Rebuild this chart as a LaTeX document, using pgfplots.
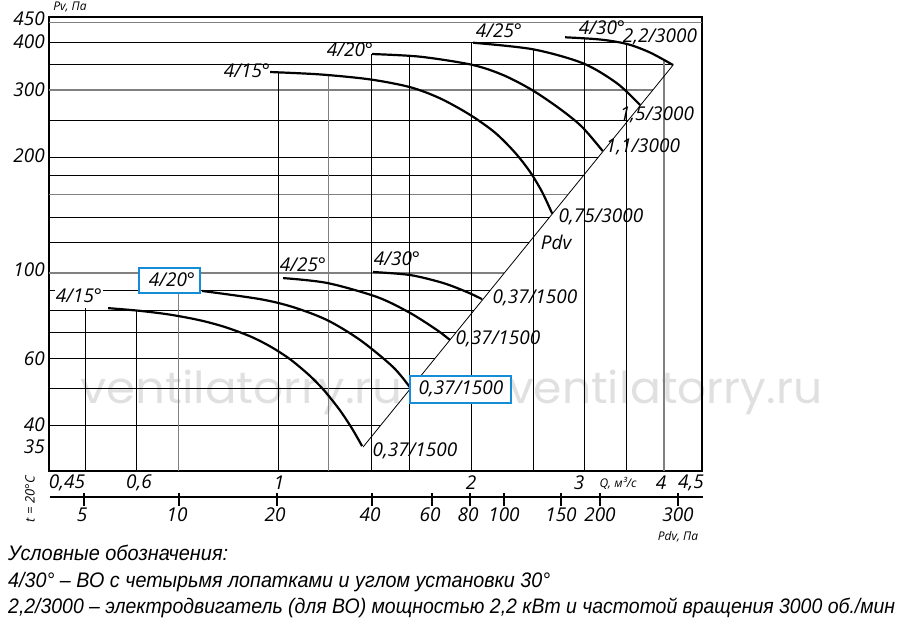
\documentclass[border=0pt]{standalone}
\usepackage{pgfplots}
\pgfplotsset{compat=1.18}
\usepackage{fontspec}
\usepackage{graphicx}
\setmainfont{Open Sans}
\newfontfamily\legfont{Liberation Sans}
\newfontfamily\wmfont{Poppins}
\definecolor{boxblue}{RGB}{20,140,215}
\pgfplotsset{gl/.style={black, line width=0.75pt}, gg/.style={black!50, line width=1.3pt}, crv/.style={black, line width=2.2pt, smooth, tension=0.5}}
\newcommand{\lf}{\itshape\fontsize{19}{19}\selectfont}
\newcommand{\smf}{\itshape\fontsize{12}{12}\selectfont}
\newcommand{\lgf}{\legfont\itshape\fontsize{21}{22}\selectfont}
\begin{document}
\begin{tikzpicture}
\begin{scope}[x=1pt,y=-1pt,shift={(-49.3pt,471pt)}]
\path[use as bounding box] (0,0) rectangle (900,624);
% watermark (behind everything)
\node[anchor=base west, inner sep=0, text=black!12, font=\wmfont\fontsize{44}{44}\selectfont] at (80,404) {\resizebox{322pt}{\height}{ventilatorry.ru}};
\node[anchor=base west, inner sep=0, text=black!12, font=\wmfont\fontsize{44}{44}\selectfont] at (508,404) {\resizebox{314pt}{\height}{ventilatorry.ru}};
\end{scope}
\begin{axis}[name=ax, at={(0,0)}, anchor=south west, xmode=log, ymode=log,
  xmin=0.4396, xmax=4.585, ymin=30.48, ymax=464,
  width=652.7pt, height=453.7pt, scale only axis, ticks=none,
  axis line style={line width=1.8pt}, clip=false]
% horizontal grid
\addplot[gg] coordinates {(0.4396,450) (4.585,450)};
\addplot[gl] coordinates {(0.4396,400) (3.40,400)};
\addplot[gl] coordinates {(0.4396,350) (4.13,350)};
\addplot[gg] coordinates {(0.4396,300) (3.842,300)};
\addplot[gl] coordinates {(0.4396,250) (3.517,250)};
\addplot[gl] coordinates {(0.4396,200) (3.155,200)};
\addplot[gl] coordinates {(0.4396,180) (2.998,180)};
\addplot[gg] coordinates {(0.4396,160) (2.831,160)};
\addplot[gl] coordinates {(0.4396,140) (2.654,140)};
\addplot[gl] coordinates {(0.4396,120) (2.462,120)};
\addplot[gg] coordinates {(0.4396,100) (2.254,100)};
\addplot[gl] coordinates {(0.4396,90) (2.141,90)};
\addplot[gl] coordinates {(0.4396,80) (2.022,80)};
\addplot[gl] coordinates {(0.4396,70) (1.895,70)};
\addplot[gl] coordinates {(0.4396,60) (1.758,60)};
\addplot[gl] coordinates {(0.4396,50) (1.609,50)};
\addplot[gl] coordinates {(0.4396,40) (1.444,40)};
% vertical grid
\addplot[gl] coordinates {(0.5,30.48) (0.5,81)};
\addplot[gl] coordinates {(0.6,30.48) (0.6,79.9)};
\addplot[gg] coordinates {(0.7,30.48) (0.7,95)};
\addplot[gl] coordinates {(1,30.48) (1,334)};
\addplot[gg] coordinates {(1.2,30.48) (1.2,328)};
\addplot[gl] coordinates {(1.4,30.48) (1.4,372)};
\addplot[gl] coordinates {(1.6,30.48) (1.6,367)};
\addplot[gl] coordinates {(2,30.48) (2,398)};
\addplot[gl] coordinates {(2.5,30.48) (2.5,383)};
\addplot[gl] coordinates {(3,30.48) (3,409)};
\addplot[gl] coordinates {(3.5,30.48) (3.5,395)};
\addplot[gg] coordinates {(4,30.48) (4,359)};
% Pdv line
\addplot[black, line width=0.8pt] coordinates {(1.357,35.2) (4.133,348.4)};
% 3000 rpm curves
\addplot[crv] coordinates {(0.9717,334.1) (1.1629,329.3) (1.3914,319.6) (1.6067,305.1) (1.7893,285.3) (1.9928,258.4) (2.1805,232.1) (2.3426,205.9) (2.4727,183.4) (2.5814,162.7) (2.6763,143)};
\addplot[crv] coordinates {(1.4014,372.2) (1.6653,366.3) (2.007,348.9) (2.2441,328.1) (2.4901,299.9) (2.7541,267.6) (2.9803,240.3) (3.2093,208)};
\addplot[crv] coordinates {(2.0146,398.3) (2.4993,382.9) (2.991,352.0) (3.379,312.2) (3.671,274)};
\addplot[crv] coordinates {(2.804,411.5) (3.1784,406.1) (3.503,395.3) (3.8048,375.6) (4.133,348.4)};
% 1500 rpm curves
\addplot[crv] coordinates {(0.5430,81.0) (0.6091,79.7) (0.6784,77.9) (0.7557,75.3) (0.8267,72.3) (0.9044,68.4) (0.9717,64.4) (1.0441,59.6) (1.1218,53.9) (1.1839,49.1) (1.2496,43.8) (1.3045,39.3) (1.3522,35.4)};
\addplot[crv] coordinates {(0.7610,89.8) (0.9374,85.5) (1.0554,81.5) (1.1926,75.4) (1.3425,66.9) (1.5111,56.9) (1.6067,50.3)};
\addplot[crv] coordinates {(1.018,97.0) (1.1926,94.2) (1.4267,86.6) (1.6067,78.7) (1.7701,71.0) (1.8546,66.9)};
\addplot[crv] coordinates {(1.4064,100.6) (1.6067,98.8) (1.8087,94.2) (1.9714,89.2) (2.0804,85.5)};
\end{axis}
\begin{scope}[x=1pt,y=-1pt,shift={(-49.3pt,471pt)}]
% y labels
\foreach \v/\y in {450/19,400/42,300/90,200/156,100/270,60/359,40/425,35/447}
  \node[anchor=east, inner sep=0, font=\lf] at (45,\y) {\v};
\node[font=\smf, inner sep=0] at (70,7) {Pv, Па};
% Q labels
\foreach \t/\x in {{0,45}/67,{0,6}/139,1/279,2/471,3/579,4/661,{4,5}/691}
  \node[inner sep=0, font=\lf] at (\x,483) {\t};
\node[inner sep=0, font=\smf] at (618,483) {Q, м³/с};
% Pdv axis
\draw[line width=1.3pt] (50,497) -- (703,497);
\foreach \x in {84,179,277,372,432,470,504,561,600,678}
  \draw[line width=1.3pt] (\x,493) -- (\x,506);
\foreach \t/\x in {5/82,10/177,20/275,40/370,60/430,80/468,100/504,150/561,200/600,300/678}
  \node[inner sep=0, font=\lf] at (\x,515) {\t};
\node[inner sep=0, font=\smf] at (678,537) {Pdv, Па};
\node[rotate=90, inner sep=0, font=\itshape\fontsize{13}{13}\selectfont] at (30,499) {t = 20°C};
% curve labels, 3000
\node[inner sep=0, font=\lf] at (247,71) {4/15°};
\node[inner sep=0, font=\lf] at (350,50) {4/20°};
\node[inner sep=0, font=\lf] at (499,31) {4/25°};
\node[inner sep=0, font=\lf] at (602,28) {4/30°};
\node[inner sep=0, font=\lf] at (660,37) {2,2/3000};
\node[inner sep=0, font=\lf] at (657,115) {1,5/3000};
\node[inner sep=0, font=\lf] at (643,147) {1,1/3000};
\node[inner sep=0, font=\lf] at (601,217) {0,75/3000};
\node[inner sep=0, font=\lf] at (556,242) {Pdv};
% curve labels, 1500
\node[inner sep=1pt, fill=white, font=\lf] at (79,296) {4/15°};
\draw[boxblue, line width=2.6pt, fill=white] (139,268) rectangle (200,293);
\node[inner sep=0, font=\lf] at (172,280) {4/20°};
\node[inner sep=0, font=\lf] at (303,265) {4/25°};
\node[inner sep=0, font=\lf] at (397,259) {4/30°};
\node[inner sep=0, font=\lf] at (535,298) {0,37/1500};
\node[inner sep=0, font=\lf] at (498,339) {0,37/1500};
\draw[boxblue, line width=2.6pt, fill=white] (410,376) rectangle (511,403);
\node[inner sep=0, font=\lf] at (461,389) {0,37/1500};
\node[inner sep=0, font=\lf] at (415,451) {0,37/1500};
% legend
\node[anchor=base west, inner sep=0, font=\lgf] at (8,560) {\resizebox{220pt}{\height}{Условные обозначения:}};
\node[anchor=base west, inner sep=0, font=\lgf] at (8,587) {\resizebox{542pt}{\height}{4/30° – ВО с четырьмя лопатками и углом установки 30°}};
\node[anchor=base west, inner sep=0, font=\lgf] at (8,613) {\resizebox{887pt}{\height}{2,2/3000 – электродвигатель (для ВО) мощностью 2,2 кВт и частотой вращения 3000 об./мин}};
\end{scope}
\end{tikzpicture}
\end{document}
